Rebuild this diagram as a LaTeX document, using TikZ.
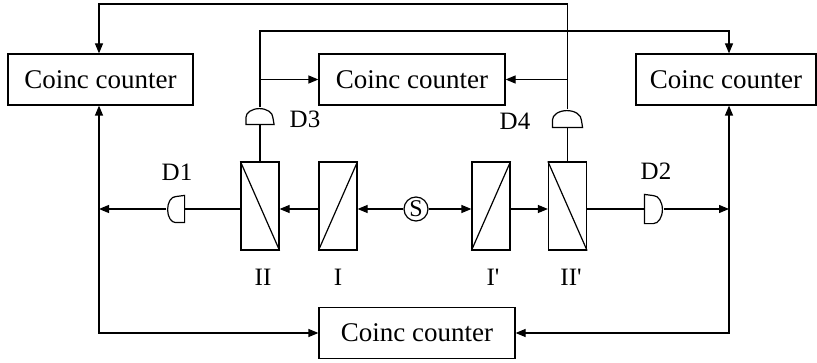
\documentclass[tikz,border=0pt]{standalone}
\usepackage{fontspec}
\setmainfont{Liberation Serif}
\usetikzlibrary{arrows.meta}

\begin{document}
\begin{tikzpicture}[x=1pt, y=1pt, line width=1.2pt, >={Triangle[length=10pt,width=8pt]},
	counter/.style={draw, minimum height=51pt, inner sep=0pt, font=\fontsize{27}{30}\selectfont},
	polar/.style={draw, minimum width=38pt, minimum height=88pt, inner sep=0pt},
	detector/.style={inner sep=0pt},
	tag/.style={inner sep=0pt, font=\fontsize{25}{30}\selectfont}]
		
		\useasboundingbox (0,0) rectangle (817,362);
		
		%counters
		\node[counter, minimum width=185pt] (lcc) at (100.5,282.5) {Coinc counter};
		\node[counter, minimum width=186pt] (mcc) at (412,282.5) {Coinc counter};
		\node[counter, minimum width=180pt] (rcc) at (726,282.5) {Coinc counter};
		\node[counter, minimum width=196pt] (bcc) at (417,29) {Coinc counter};
		
		%source
		\node[draw, circle, minimum size=24pt, inner sep=0pt, font=\fontsize{24}{26}\selectfont] (S) at (416,153) {S};
		
		%polarizers
		\node[polar] (II) at (260,156) {};
		\node[polar] (I) at (338,156) {};
		\node[polar] (Ip) at (491,156) {};
		\node[polar] (IIp) at (567.5,156) {};
		\draw (II.north west) -- (II.south east);
		\draw (I.south west) -- (I.north east);
		\draw (Ip.south west) -- (Ip.north east);
		\draw (IIp.north west) -- (IIp.south east);
		
		%detectors
		\node[detector, minimum width=17pt, minimum height=26pt] (D1) at (175.5,153) {};
		\node[detector, minimum width=18pt, minimum height=28pt] (D2) at (654,153) {};
		\node[detector, minimum width=27pt, minimum height=16pt] (D3) at (260,246) {};
		\node[detector, minimum width=29pt, minimum height=17pt] (D4) at (567.5,243.5) {};
		\draw (D1.north east) -- (D1.south east) -- ++(-9,0) arc[start angle=270, end angle=90, x radius=8, y radius=13] -- cycle;
		\draw (D2.north west) -- (D2.south west) -- ++(9,0) arc[start angle=-90, end angle=90, x radius=9, y radius=14] -- cycle;
		\draw (D3.south east) -- (D3.south west) -- ++(0,7) arc[start angle=180, end angle=0, x radius=13.5, y radius=9] -- cycle;
		\draw (D4.south east) -- (D4.south west) -- ++(0,7.5) arc[start angle=180, end angle=0, x radius=14.5, y radius=9.5] -- cycle;
		
		%labels
		\node[tag] (lD1) at (177,190) {D1};
		\node[tag] (lD2) at (656,191) {D2};
		\node[tag] (lD3) at (305,243) {D3};
		\node[tag] (lD4) at (515,241) {D4};
		\node[tag] (lII) at (263,85) {II};
		\node[tag] (lI) at (338,85) {I};
		\node[tag] (lIp) at (493,85) {I\textquotesingle};
		\node[tag] (lIIp) at (571,85) {II\textquotesingle};
		
		%corners
		\coordinate (ltop) at (99,358);
		\coordinate (l3) at (260,331);
		\coordinate (r3) at (729,331);
		\coordinate (lmid) at (99,153);
		\coordinate (rmid) at (729,153);
		\coordinate (lbot) at (99,29);
		\coordinate (rbot) at (729,29);
		
		% beam left
		\draw[->] (S) -- (S -| I.east);
		\draw[->] (I.west |- S) -- (II.east |- S);
		\draw (II.west |- S) -- (D1);
		\draw[->] (D1) -- (lmid);
		
		% beam right
		\draw[->] (S) -- (S -| Ip.west);
		\draw[->] (Ip.east |- S) -- (IIp.west |- S);
		\draw (IIp.east |- S) -- (D2);
		\draw[->] (D2) -- (rmid);
		
		% D3
		\draw (D3) -- (II);
		\draw[->] (D3) -- (l3) -- (r3) -- (r3 |- rcc.north);
		\draw[->] (D3 |- mcc) -- (mcc.west);
		
		% D4
		\draw (D4) -- (IIp);
		\draw[->] (D4) -- (D4 |- ltop) -- (ltop) -- (ltop |- lcc.north);
		\draw[->] (D4 |- mcc) -- (mcc.east);
		
		% bottom counter
		\draw[<->] (lcc.south -| lbot) -- (lbot) -- (bcc.west);
		\draw[<->] (rcc.south -| rbot) -- (rbot) -- (bcc.east);
		
\end{tikzpicture}
\end{document}
